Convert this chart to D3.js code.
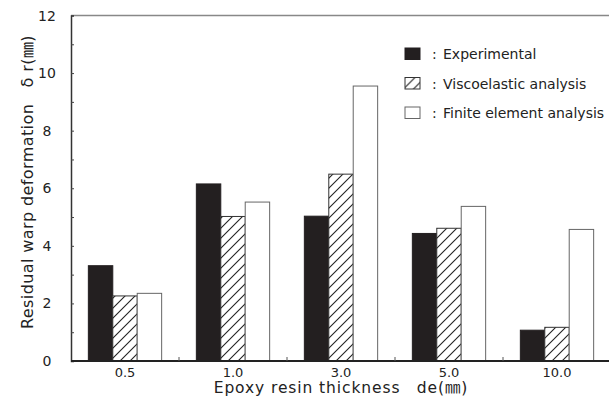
<!DOCTYPE html>
<html lang="en">
<head>
<meta charset="utf-8">
<title>Residual warp deformation</title>
<script src="https://d3js.org/d3.v7.min.js"></script>
<style>
  body { margin: 0; background: #fff; }
  text { font-family: "DejaVu Sans", "Noto Sans CJK JP", sans-serif; fill: #222; }
</style>
</head>
<body>
<script>
// data
const categories = ["0.5", "1.0", "3.0", "5.0", "10.0"]
const seriesNames = ["Experimental", "Viscoelastic analysis", "Finite element analysis"]
const experimental = [3.31, 6.15, 5.03, 4.43, 1.07]
const viscoelastic = [2.26, 5.02, 6.49, 4.61, 1.17]
const finiteElement = [2.35, 5.52, 9.55, 5.37, 4.57]
const yTicks = [0, 2, 4, 6, 8, 10, 12]
const yMinorTicks = [1, 2, 3, 4, 5, 6, 7, 8, 9, 10, 11]

const w = 609
const h = 401
const padL = 71, padR = 611, padT = 15.5, padB = 361

const values = [experimental, viscoelastic, finiteElement]
const rows = categories.map((c, i) => ({
  cat: c,
  vals: seriesNames.map((s, j) => ({ key: s, v: values[j][i] }))
}))

const svg = d3.select("body").append("svg")
  .attr("width", w)
  .attr("height", h)

// hatch pattern for viscoelastic bars
const pat = svg.append("defs").append("pattern")
  .attr("id", "hatch")
  .attr("patternUnits", "userSpaceOnUse")
  .attr("width", 10)
  .attr("height", 10)
pat.append("rect").attr("width", 10).attr("height", 10).attr("fill", "#fff")
pat.append("path")
  .attr("d", "M0,10 L10,0 M-2,2 L2,-2 M8,12 L12,8")
  .attr("stroke", "#222")
  .attr("stroke-width", 1.1)

const x = d3.scaleBand().domain(categories).range([padL, padR])
const xInner = d3.scaleBand().domain(seriesNames)
  .range([0, x.bandwidth()]).paddingInner(0).paddingOuter(0.71)
const y = d3.scaleLinear().domain([0, 12]).range([padB, padT])

const fills = { "Experimental": "#231f20", "Viscoelastic analysis": "url(#hatch)", "Finite element analysis": "#fff" }
const strokes = { "Experimental": "#231f20", "Viscoelastic analysis": "#333", "Finite element analysis": "#666" }

// bars
const groups = svg.selectAll(".grp")
  .data(rows)
  .enter().append("g")
  .attr("class", "grp")
  .attr("transform", d => `translate(${x(d.cat)},0)`)

groups.selectAll("rect")
  .data(d => d.vals)
  .enter().append("rect")
  .attr("x", d => xInner(d.key))
  .attr("y", d => y(d.v))
  .attr("width", xInner.bandwidth())
  .attr("height", d => y(0) - y(d.v))
  .attr("fill", d => fills[d.key])
  .attr("stroke", d => strokes[d.key])
  .attr("stroke-width", 1)

// frame: gray top line, dark left and bottom axes
svg.append("line")
  .attr("x1", padL).attr("x2", w).attr("y1", padT).attr("y2", padT)
  .attr("stroke", "#888").attr("stroke-width", 1.5)

const yAxis = d3.axisRight(y).tickValues(yMinorTicks).tickSize(3).tickFormat("")
svg.append("g")
  .attr("transform", `translate(${padL},0)`)
  .call(yAxis)
  .call(g => g.select(".domain").attr("stroke", "#333").attr("stroke-width", 1.5))
  .call(g => g.selectAll(".tick line").attr("stroke", "#444"))

// y tick labels, centered away from the axis
svg.append("g").selectAll("text")
  .data(yTicks)
  .enter().append("text")
  .attr("x", 47)
  .attr("y", d => y(d))
  .attr("dy", "0.36em")
  .attr("text-anchor", "middle")
  .style("font-size", "14px")
  .text(d => d)

// x axis: ticks at group boundaries, labels under group centres
const bounds = categories.slice(1).map(c => x(c))
svg.append("line")
  .attr("x1", padL).attr("x2", w).attr("y1", padB).attr("y2", padB)
  .attr("stroke", "#222").attr("stroke-width", 2)
svg.append("g").selectAll("line")
  .data(bounds)
  .enter().append("line")
  .attr("x1", d => d).attr("x2", d => d)
  .attr("y1", padB).attr("y2", padB - 4)
  .attr("stroke", "#555").attr("stroke-width", 1)

svg.append("g").selectAll("text")
  .data(categories)
  .enter().append("text")
  .attr("x", d => x(d) + x.bandwidth() / 2)
  .attr("y", 377)
  .attr("text-anchor", "middle")
  .style("font-size", "13px")
  .text(d => d)

// axis titles
svg.append("text")
  .attr("x", 341)
  .attr("y", 392.5)
  .attr("text-anchor", "middle")
  .style("font-size", "15.5px")
  .style("letter-spacing", "0.9px")
  .text("Epoxy resin thickness\u3000de(\u339C)")

svg.append("text")
  .attr("transform", "translate(33,182) rotate(-90)")
  .attr("text-anchor", "middle")
  .style("font-size", "16px")
  .style("letter-spacing", "0.4px")
  .text("Residual warp deformation\u3000\u03B4 r(\u339C)")

// legend
const legend = svg.append("g").attr("transform", "translate(405,48)")
const item = legend.selectAll("g")
  .data(seriesNames)
  .enter().append("g")
  .attr("transform", (d, i) => `translate(0,${i * 29.5})`)
item.append("rect")
  .attr("width", 15)
  .attr("height", 11.5)
  .attr("fill", d => fills[d])
  .attr("stroke", d => strokes[d])
item.append("text")
  .attr("x", 27)
  .attr("y", 11)
  .style("font-size", "14px")
  .text(":")
item.append("text")
  .attr("x", 38)
  .attr("y", 11)
  .style("font-size", "14px")
  .text(d => d)
</script>
</body>
</html>
